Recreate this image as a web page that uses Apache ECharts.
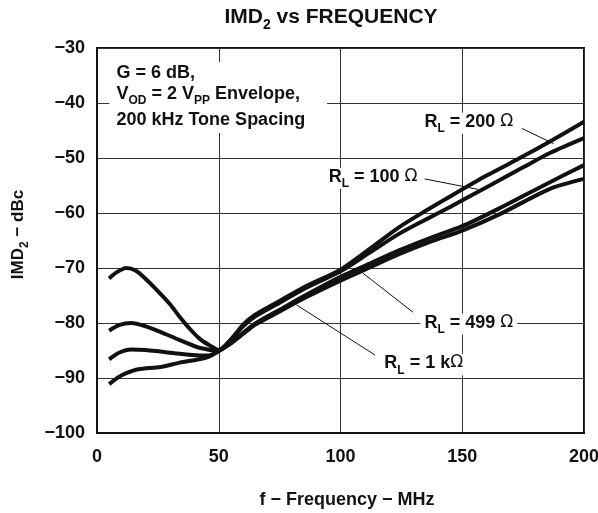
<!DOCTYPE html>
<html><head><meta charset="utf-8">
<script src="https://cdn.jsdelivr.net/npm/echarts@6/dist/echarts.min.js"></script>
<style>html,body{margin:0;padding:0;background:#fff}#c{width:598px;height:513px}</style>
</head><body><div id="c"></div>
<script>
// ---- data ----
const xTicks = [0, 50, 100, 150, 200];
const yTicks = [-100, -90, -80, -70, -60, -50, -40, -30];

const freqRL100 = [5, 8, 12, 16, 20, 25, 30, 34, 38, 42, 46, 50, 55, 60, 65, 75, 85, 100, 112, 124, 135, 145, 160, 175, 186, 200];
const imdRL100  = [-71.9, -70.8, -70.0, -70.5, -72.0, -74.2, -76.6, -78.9, -81.0, -82.8, -84.0, -84.9, -83.0, -80.6, -78.8, -76.3, -73.8, -70.6, -67.2, -63.8, -61.2, -58.9, -55.3, -51.7, -49.1, -46.4];

const freqRL200 = [5, 9, 14, 20, 26, 34, 42, 50, 55, 60, 65, 75, 85, 100, 112, 124, 135, 145, 160, 175, 186, 200];
const imdRL200  = [-81.4, -80.4, -80.0, -80.6, -81.6, -83.1, -84.5, -85.0, -83.0, -80.3, -78.5, -76.0, -73.5, -70.3, -66.5, -62.6, -59.6, -57.0, -53.2, -49.7, -47.0, -43.4];

const freqRL499 = [5, 9, 14, 20, 26, 32, 39, 46, 50, 55, 60, 65, 75, 85, 100, 112, 124, 137, 150, 165, 186, 200];
const imdRL499  = [-86.6, -85.4, -84.8, -84.9, -85.2, -85.5, -85.8, -85.9, -85.1, -83.6, -81.8, -80.1, -77.6, -75.1, -71.6, -69.2, -66.8, -64.5, -62.4, -59.2, -54.4, -51.3];

const freqRL1k = [5, 9, 12, 17, 26, 34, 42, 46, 50, 55, 60, 65, 75, 85, 100, 112, 124, 137, 150, 165, 186, 200];
const imdRL1k  = [-91.1, -89.8, -89.1, -88.4, -88.0, -87.2, -86.6, -86.1, -85.1, -83.7, -82.0, -80.3, -77.9, -75.5, -72.3, -69.9, -67.5, -65.2, -63.2, -60.3, -55.6, -53.8];

const seriesNames = ['RL = 100 Ω', 'RL = 200 Ω', 'RL = 499 Ω', 'RL = 1 kΩ'];

// ---- annotations (data coordinates) ----
const FONT = '"Liberation Sans", Arial, sans-serif';
const rich = {
  b: {fontFamily: FONT, fontWeight: 'bold', fontSize: 18, color: '#111', lineHeight: 21, verticalAlign: 'top'},
  c: {fontFamily: FONT, fontWeight: 'bold', fontSize: 18, color: '#111', lineHeight: 21, verticalAlign: 'top', padding: [5, 0, 0, 0]},
  s: {fontFamily: FONT, fontWeight: 'bold', fontSize: 12, color: '#111', lineHeight: 12, padding: [11, 0, 0, 0]},
  o: {fontFamily: '"DejaVu Sans", sans-serif', fontWeight: 'normal', fontSize: 17, color: '#111', lineHeight: 21, verticalAlign: 'top'}
};
const labelDefs = [
  {at: [152.7, -43.7], text: '{b|R}{s|L}{b| = 200 }{o|Ω}'},
  {at: [113.4, -53.7], text: '{b|R}{s|L}{b| = 100 }{o|Ω}'},
  {at: [152.7, -80.2], text: '{b|R}{s|L}{b| = 499 }{o|Ω}'},
  {at: [134.2, -87.6], text: '{b|R}{s|L}{b| = 1 k}{o|Ω}'}
];
const leaders = [
  [[174.4, -44.6], [187.5, -47.4]],
  [[134.6, -53.8], [156.4, -55.7]],
  [[129.8, -78.05], [109.1, -70.9]],
  [[114.1, -85.8], [81.9, -76.7]]
];
const noteAt = [5.1, -32.55];
const noteText = '{b|G = 6 dB,}\n{b|V}{s|OD}{b| = 2 V}{s|PP}{b| Envelope,}\n{c|200 kHz Tone Spacing}';

function pairs(f, v) { return f.map((x, i) => [x, v[i]]); }

const chart = echarts.init(document.getElementById('c'), null, {renderer: 'canvas'});
const lineStyle = {color: '#111', width: 4};
const mk = (name, f, v) => ({
  name, type: 'line', data: pairs(f, v), showSymbol: false, smooth: 0.25,
  lineStyle, itemStyle: {color: '#111'}, z: 3, silent: true
});
const series = [
  mk(seriesNames[0], freqRL100, imdRL100),
  mk(seriesNames[1], freqRL200, imdRL200),
  mk(seriesNames[2], freqRL499, imdRL499),
  mk(seriesNames[3], freqRL1k, imdRL1k)
];
series[0].markLine = {
  silent: true, symbol: ['none', 'none'], animation: false,
  lineStyle: {color: '#111', width: 1, type: 'solid'}, label: {show: false},
  data: leaders.map(l => [{coord: l[0]}, {coord: l[1]}])
};
series[0].markPoint = {
  silent: true, symbol: 'rect', symbolSize: 0, animation: false,
  data: labelDefs.map(l => ({
    coord: l.at,
    label: {show: true, position: [0, 0], align: 'center', verticalAlign: 'middle',
      formatter: l.text, rich, backgroundColor: '#fff', padding: [0, 4, 0, 4]}
  })).concat([{
    coord: noteAt,
    label: {show: true, position: [0, 0], align: 'left', verticalAlign: 'top',
      formatter: noteText, rich, backgroundColor: '#fff', padding: [2, 22, 6, 7]}
  }])
};

const axisFont = {fontFamily: FONT, fontWeight: 'bold', fontSize: 18, color: '#111'};
chart.setOption({
  animation: false,
  backgroundColor: '#fff',
  grid: {left: 97, top: 48, width: 487, height: 385, outerBoundsMode: 'none', containLabel: false,
    show: true, borderColor: '#111', borderWidth: 2, backgroundColor: 'transparent'},
  xAxis: {
    type: 'value', min: xTicks[0], max: xTicks[xTicks.length - 1], interval: 50,
    axisLine: {show: true, lineStyle: {color: '#111', width: 2}},
    axisTick: {show: false},
    axisLabel: Object.assign({margin: 15}, axisFont),
    splitLine: {show: true, lineStyle: {color: '#333', width: 1}},
    name: 'f − Frequency − MHz', nameLocation: 'middle', nameGap: 58,
    nameTextStyle: Object.assign({padding: [0, 0, 0, 13]}, axisFont)
  },
  yAxis: {
    type: 'value', min: yTicks[0], max: yTicks[yTicks.length - 1], interval: 10,
    axisLine: {show: true, lineStyle: {color: '#111', width: 2}},
    axisTick: {show: false},
    axisLabel: Object.assign({margin: 12, formatter: v => String(v).replace('-', '−')}, axisFont),
    splitLine: {show: true, lineStyle: {color: '#333', width: 1}},
    name: '{b|IMD}{s|2}{b| − dBc}', nameLocation: 'middle', nameGap: 55,
    nameTextStyle: {rich: {
      b: {fontFamily: FONT, fontWeight: 'bold', fontSize: 17, color: '#111', lineHeight: 20, verticalAlign: 'top'},
      s: {fontFamily: FONT, fontWeight: 'bold', fontSize: 12, color: '#111', lineHeight: 12, padding: [10, 0, 0, 0]}
    }, padding: [0, 0, 12, 12]}
  },
  graphic: [{
    type: 'text', x: 331, y: 19, silent: true,
    style: {
      text: '{b|IMD}{s|2}{b| vs FREQUENCY}', align: 'center', verticalAlign: 'middle',
      rich: {
        b: {fontFamily: FONT, fontWeight: 'bold', fontSize: 21, fill: '#111', lineHeight: 24, verticalAlign: 'top'},
        s: {fontFamily: FONT, fontWeight: 'bold', fontSize: 14, fill: '#111', lineHeight: 14, padding: [12, 0, 0, 0]}
      }
    }
  }],
  series
});
</script></body></html>
